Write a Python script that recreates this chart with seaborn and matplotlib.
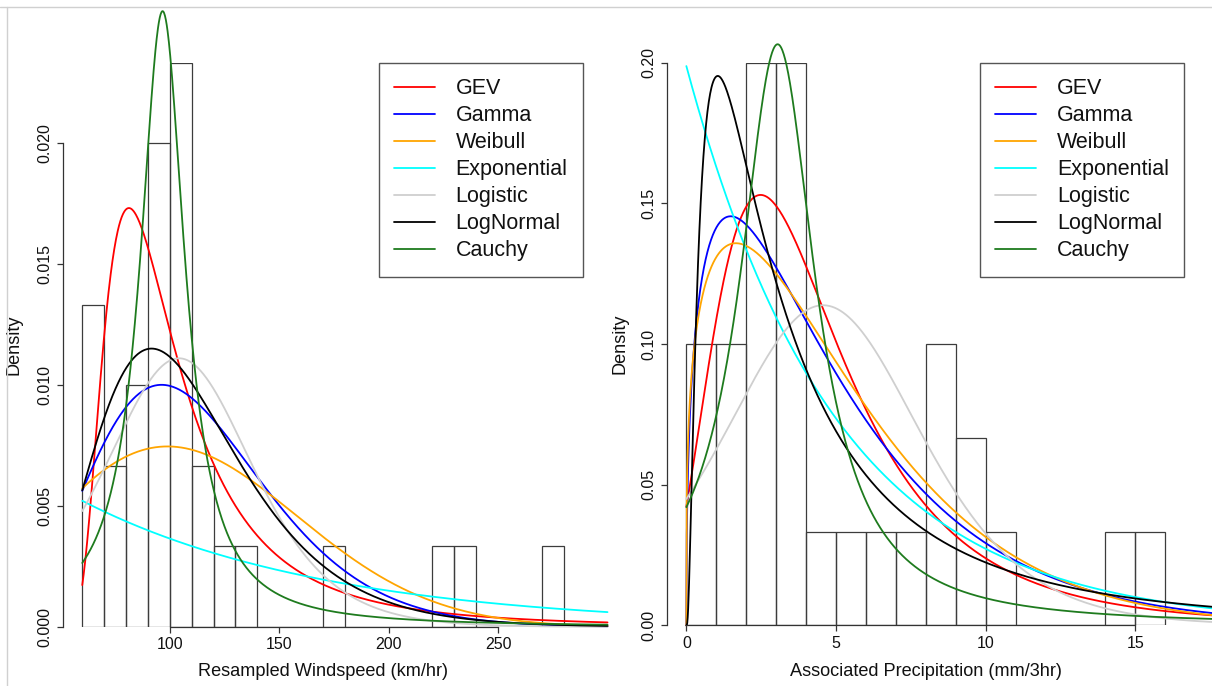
import math
import numpy as np
import pandas as pd
import matplotlib
matplotlib.use("Agg")
import matplotlib.pyplot as plt
from matplotlib.lines import Line2D
import seaborn as sns

# ---------------- data ----------------
# Left panel: resampled windspeed histogram (bin edges, counts; n = 30)
wind_edges = [60, 70, 80, 90, 100, 110, 120, 130, 140, 150, 160, 170, 180,
              190, 200, 210, 220, 230, 240, 250, 260, 270, 280]
wind_counts = [4, 2, 3, 6, 7, 2, 1, 1, 0, 0, 0, 1, 0, 0, 0, 0, 1, 1, 0, 0, 0, 1]
wind_curve_range = [60, 300]

# Right panel: associated precipitation histogram
prec_edges = [0, 1, 2, 3, 4, 5, 6, 7, 8, 9, 10, 11, 12, 13, 14, 15, 16]
prec_counts = [3, 3, 6, 6, 1, 1, 1, 1, 3, 2, 1, 0, 0, 0, 1, 1]
prec_curve_range = [0, 18]

dist_names = ["GEV", "Gamma", "Weibull", "Exponential", "Logistic", "LogNormal", "Cauchy"]
dist_colors = ["#ff0000", "#0000ff", "#ffa500", "#00ffff", "#cfcfcf", "#000000", "#1e7b1e"]

# fitted parameters (estimated from the curves in the picture)
wind_gev = [88.5, 22.8, 0.40]        # loc, scale, shape
wind_gamma = [7.0, 16.04]            # shape, scale
wind_weibull = [2.3, 126.8]          # shape, scale
wind_exp = [0.008905]                # rate
wind_logis = [104.2, 22.5]           # loc, scale
wind_lnorm = [4.644, 0.355]          # meanlog, sdlog
wind_cauchy = [96.7, 12.5]           # loc, scale

prec_gev = [2.92, 2.45, 0.20]
prec_gamma = [1.417, 3.55]
prec_weibull = [1.28, 5.43]
prec_exp = [0.1988]
prec_logis = [4.57, 2.197]
prec_lnorm = [1.221, 1.083]
prec_cauchy = [3.05, 1.541]

wind_xticks = [100, 150, 200, 250]
wind_yticks = [0.000, 0.005, 0.010, 0.015, 0.020]
wind_yticklabels = ["0.000", "0.005", "0.010", "0.015", "0.020"]
prec_xticks = [0, 5, 10, 15]
prec_yticks = [0.00, 0.05, 0.10, 0.15, 0.20]
prec_yticklabels = ["0.00", "0.05", "0.10", "0.15", "0.20"]


# ---------------- density functions ----------------
def gev_pdf(x, p):
    loc, scale, shape = p
    z = (x - loc) / scale
    s = 1 + shape * z
    out = np.zeros_like(x)
    m = s > 0
    t = s[m] ** (-1.0 / shape)
    out[m] = t ** (shape + 1) * np.exp(-t) / scale
    return out


def gamma_pdf(x, p):
    k, th = p
    out = np.zeros_like(x)
    m = x > 0
    out[m] = np.exp((k - 1) * np.log(x[m]) - x[m] / th - math.lgamma(k) - k * math.log(th))
    return out


def weibull_pdf(x, p):
    k, lam = p
    out = np.zeros_like(x)
    m = x > 0
    r = x[m] / lam
    out[m] = (k / lam) * r ** (k - 1) * np.exp(-r ** k)
    return out


def exp_pdf(x, p):
    rate = p[0]
    return rate * np.exp(-rate * x)


def logis_pdf(x, p):
    loc, s = p
    e = np.exp(-(x - loc) / s)
    return e / (s * (1 + e) ** 2)


def lnorm_pdf(x, p):
    mu, sd = p
    out = np.zeros_like(x)
    m = x > 0
    out[m] = np.exp(-(np.log(x[m]) - mu) ** 2 / (2 * sd ** 2)) / (x[m] * sd * math.sqrt(2 * math.pi))
    return out


def cauchy_pdf(x, p):
    x0, g = p
    return 1.0 / (math.pi * g * (1 + ((x - x0) / g) ** 2))


funcs = [gev_pdf, gamma_pdf, weibull_pdf, exp_pdf, logis_pdf, lnorm_pdf, cauchy_pdf]
wind_params = [wind_gev, wind_gamma, wind_weibull, wind_exp, wind_logis, wind_lnorm, wind_cauchy]
prec_params = [prec_gev, prec_gamma, prec_weibull, prec_exp, prec_logis, prec_lnorm, prec_cauchy]

# ---------------- figure ----------------
sns.set_theme(style="white")
plt.rcParams["font.family"] = ["Liberation Sans", "DejaVu Sans"]

W, H = 1212, 686
fig = plt.figure(figsize=(W / 100, H / 100), dpi=100)
fig.patch.set_facecolor("white")


def px_axes(left, top, right, bottom):
    return fig.add_axes([left / W, 1 - bottom / H, (right - left) / W, (bottom - top) / H])


ax1 = px_axes(63.0, 62.7, 583.0, 627.0)
ax2 = px_axes(667.2, 62.7, 1184.3, 625.4)

edge_col = "#3c3c3c"


def draw_panel(ax, edges, counts, crange, params, xlim, ylim, xticks, yticks, yticklabels,
               xlabel, xlab_y, ylab_x, ybound, xbound):
    e = [float(v) for v in edges]
    mids = [(a + b) / 2 for a, b in zip(e[:-1], e[1:])]
    hist_df = pd.DataFrame({"x": mids, "w": [float(c) for c in counts]})
    sns.histplot(data=hist_df, x="x", weights="w", bins=e, stat="density", fill=False,
                 color=edge_col, linewidth=0.9, ax=ax)
    grid = np.linspace(crange[0], crange[1], 1201)
    for name, col, f, p in zip(dist_names, dist_colors, funcs, params):
        cdf = pd.DataFrame({"x": grid, "y": f(grid, p)})
        sns.lineplot(data=cdf, x="x", y="y", color=col, linewidth=1.3, ax=ax,
                     estimator=None, sort=False, errorbar=None, label=name,
                     clip_on=False, legend=False)
    ax.set_xlim(*xlim)
    ax.set_ylim(*ylim)
    ax.set_xticks(xticks)
    ax.set_xticklabels([str(t) for t in xticks])
    ax.set_yticks(yticks)
    ax.set_yticklabels(yticklabels)
    for s in ["top", "right"]:
        ax.spines[s].set_visible(False)
    for s in ["left", "bottom"]:
        ax.spines[s].set_color("#333333")
        ax.spines[s].set_linewidth(0.9)
    ax.spines["left"].set_bounds(*ybound)
    ax.spines["bottom"].set_bounds(*xbound)
    ax.tick_params(axis="both", which="major", direction="out", length=4, width=0.9,
                   color="#333333", labelsize=11.5, labelcolor="#111111",
                   left=True, bottom=True)
    ax.tick_params(axis="x", pad=3.5)
    ax.tick_params(axis="y", pad=3.5, labelrotation=90)
    for lab in ax.get_yticklabels():
        lab.set_va("center")
    ax.set_xlabel(xlabel, fontsize=13.1, color="#111111")
    ax.set_ylabel("Density", fontsize=13.1, color="#111111")
    ax.xaxis.set_label_coords(0.5, xlab_y)
    ax.yaxis.set_label_coords(ylab_x, 0.5)
    ax.grid(False)
    ax.set_facecolor("none")
    handles, labels = ax.get_legend_handles_labels()
    leg = ax.legend(handles, labels, loc="upper right", bbox_to_anchor=(1.0, 1.0),
                    borderaxespad=0.0, fontsize=15.5, frameon=True, fancybox=False,
                    shadow=False, framealpha=1.0, edgecolor="#555555",
                    handlelength=1.9, handletextpad=0.95, labelspacing=0.28,
                    borderpad=0.72)
    leg.get_frame().set_linewidth(1.0)
    for t in leg.get_texts():
        t.set_color("#111111")


draw_panel(ax1, wind_edges, wind_counts, wind_curve_range, wind_params,
           (51.2, 288.8), (0, 0.023333), wind_xticks, wind_yticks, wind_yticklabels,
           "Resampled Windspeed (km/hr)", -0.063, -0.078, (0.0, 0.020), (100, 250))
draw_panel(ax2, prec_edges, prec_counts, prec_curve_range, prec_params,
           (-0.64, 16.64), (0, 0.20), prec_xticks, prec_yticks, prec_yticklabels,
           "Associated Precipitation (mm/3hr)", -0.066, -0.075, (0.0, 0.20), (0, 15))

# screenshot frame lines (top and left)
fig.add_artist(Line2D([0, 1], [1 - 7.3 / H, 1 - 7.3 / H], transform=fig.transFigure,
                      color="#d0d0d0", linewidth=1.0))
fig.add_artist(Line2D([7.3 / W, 7.3 / W], [0, 1 - 7.3 / H], transform=fig.transFigure,
                      color="#d0d0d0", linewidth=1.0))

fig.savefig("out.png", dpi=100, facecolor="white")
